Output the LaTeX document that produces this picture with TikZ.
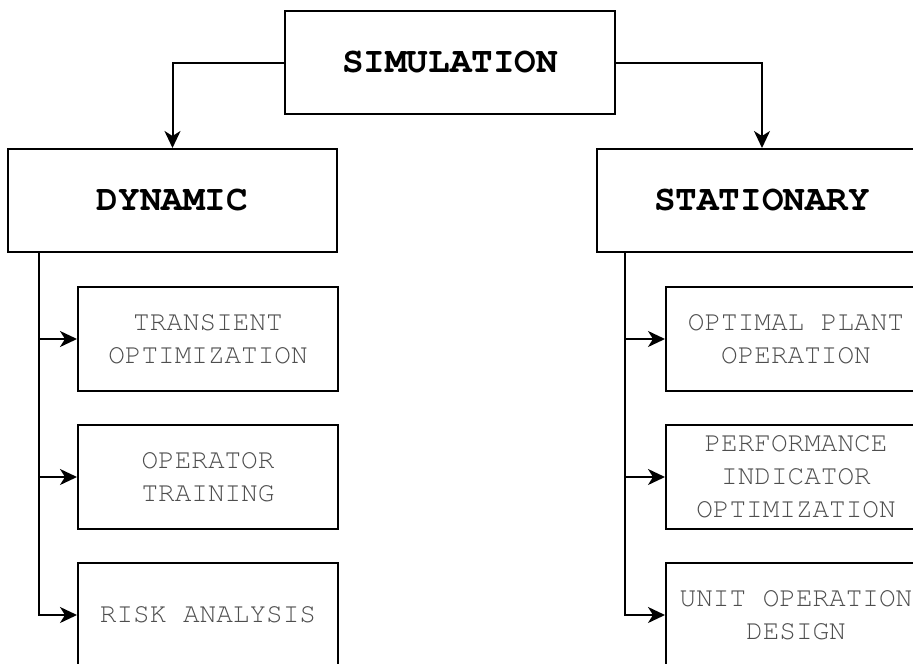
\documentclass[tikz,border=0pt]{standalone}
\usepackage{fontspec}
\setmonofont{TeX Gyre Cursor}
\usetikzlibrary{arrows.meta}
\definecolor{leaftext}{HTML}{4E4E4E}
\begin{document}
\begin{tikzpicture}[x=1pt,y=-1pt,
  box/.style={draw=black, line width=2pt, inner sep=0pt, align=center, fill=white},
  titlebox/.style={box, minimum width=330pt, minimum height=103pt,
    font=\ttfamily\bfseries\fontsize{36}{40}\selectfont},
  leafbox/.style={box, minimum width=260pt, minimum height=104pt, text=leaftext,
    font=\ttfamily\fontsize{27.7}{33}\selectfont},
  link/.style={line width=2pt, draw=black},
  arr/.style={link, -{Stealth[length=17pt,width=16pt,inset=5pt]}}]
\useasboundingbox (0,0) rectangle (913,664);
\clip (0,0) rectangle (913,664);

% top level
\node[titlebox] (sim) at (450,62.5) {SIMULATION};

% two branches
\node[titlebox, minimum width=329pt] (dyn) at (172.5,200.5) {DYNAMIC};
\node[titlebox] (sta) at (762,200.5) {STATIONARY};

% dynamic applications
\node[leafbox] (tra) at (208,339) {TRANSIENT\\OPTIMIZATION};
\node[leafbox] (opt) at (208,477) {OPERATOR\\TRAINING};
\node[leafbox] (risk) at (208,615) {RISK ANALYSIS};

% stationary applications
\node[leafbox] (plant) at (796,339) {OPTIMAL PLANT\\OPERATION};
\node[leafbox] (perf) at (796,477) {PERFORMANCE\\INDICATOR\\OPTIMIZATION};
\node[leafbox] (unit) at (796,615) {UNIT OPERATION\\DESIGN};

% connectors from the root
\draw[arr] (sim.west) -| (dyn.north);
\draw[arr] (sim.east) -| (sta.north);

% dynamic trunk
\draw[arr] ([xshift=32pt]dyn.south west) |- (tra.west);
\draw[arr] ([xshift=32pt]dyn.south west) |- (opt.west);
\draw[arr] ([xshift=32pt]dyn.south west) |- (risk.west);

% stationary trunk
\draw[arr] ([xshift=29pt]sta.south west) |- (plant.west);
\draw[arr] ([xshift=29pt]sta.south west) |- (perf.west);
\draw[arr] ([xshift=29pt]sta.south west) |- (unit.west);
\end{tikzpicture}
\end{document}
